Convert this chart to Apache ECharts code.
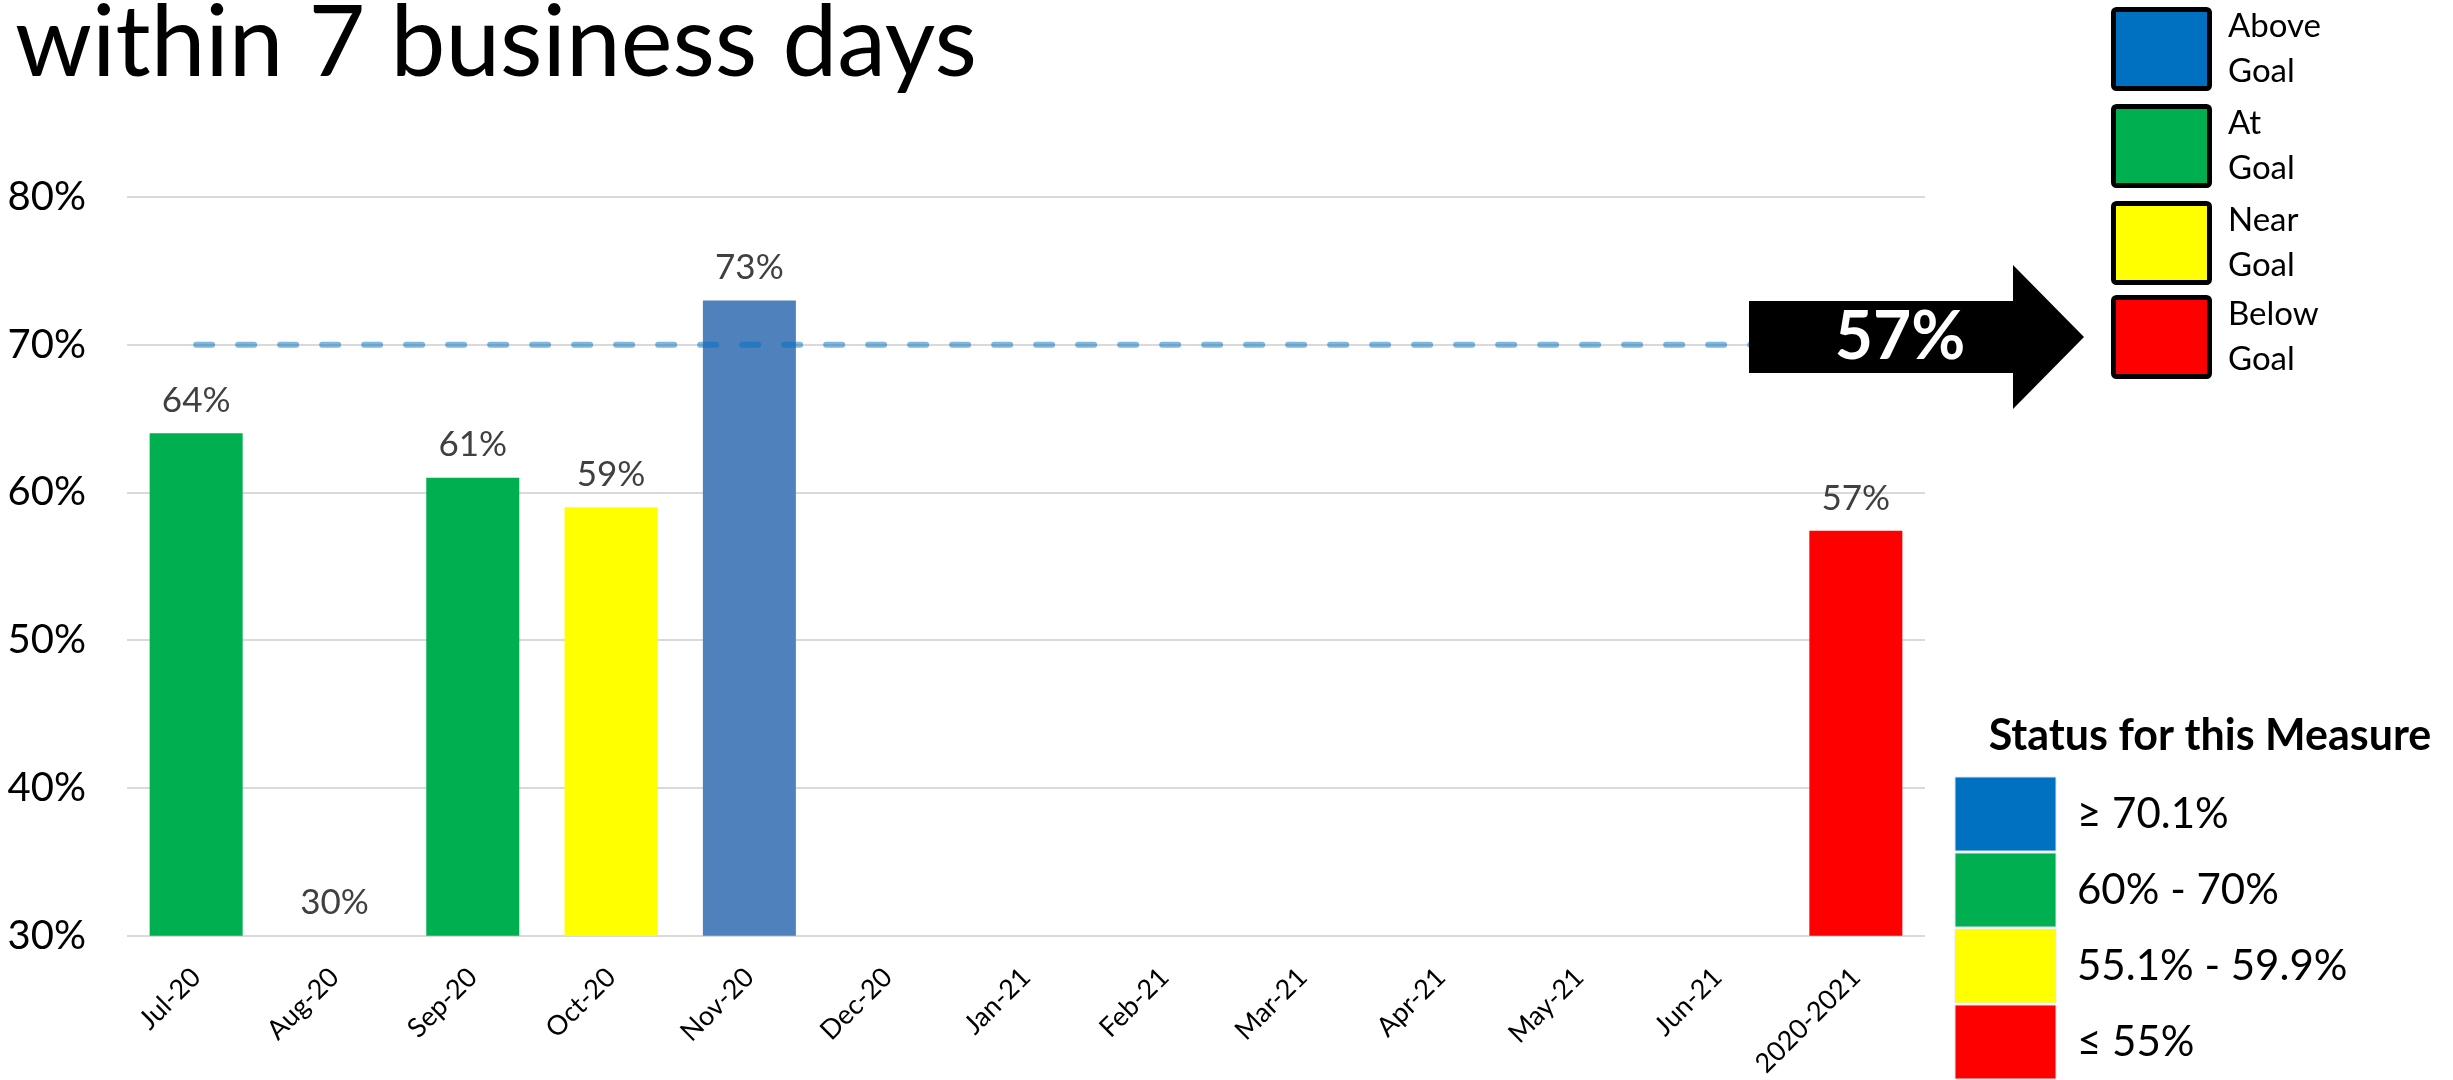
<!DOCTYPE html>
<html>
<head>
<meta charset="utf-8">
<script src="https://cdn.jsdelivr.net/npm/echarts@6/dist/echarts.min.js"></script>
<style>
  html, body { margin: 0; padding: 0; background: #fff; }
  #chart { width: 2453px; height: 1080px; }
</style>
</head>
<body>
<div id="chart"></div>
<script>
// ---- data ----
const titleText = 'within 7 business days';
const categories = ['Jul-20', 'Aug-20', 'Sep-20', 'Oct-20', 'Nov-20', 'Dec-20', 'Jan-21', 'Feb-21', 'Mar-21', 'Apr-21', 'May-21', 'Jun-21', '2020-2021'];
const values = [64, 30, 61, 59, 73, null, null, null, null, null, null, null, 57.4];
const statuses = ['at', 'none', 'at', 'near', 'above', 'none', 'none', 'none', 'none', 'none', 'none', 'none', 'below'];
const goalLine = [70, 70, 70, 70, 70, 70, 70, 70, 70, 70, 70, 70, 70];
const yTicks = [30, 40, 50, 60, 70, 80];
const goalLegendLabels = ['Above\nGoal', 'At\nGoal', 'Near\nGoal', 'Below\nGoal'];
const statusTitle = 'Status for this Measure';
const statusRangeLabels = ['\u2265 70.1%', '60% - 70%', '55.1% - 59.9%', '\u2264 55%'];

// ---- styles ----
const FONT = 'Lato';
const barColorMap = { above: '#4F81BD', at: '#00B050', near: '#FFFF00', below: '#FF0000', none: '#FFFFFF' };
const legendColors = ['#0070C0', '#00B050', '#FFFF00', '#FF0000'];

const chart = echarts.init(document.getElementById('chart'), null, { renderer: 'canvas' });

const barData = values.map((v, i) => ({ value: v, itemStyle: { color: barColorMap[statuses[i]] } }));

const graphics = [];
// title
graphics.push({
  type: 'text', x: 15, y: 44, z: 10,
  style: { text: titleText, font: '98px ' + FONT, fill: '#000', align: 'left', verticalAlign: 'middle' }
});
// arrow
const lastVal = values[values.length - 1];
graphics.push({
  type: 'polygon', z: 20,
  shape: { points: [[1749, 301], [2013, 301], [2013, 265], [2084, 337], [2013, 409], [2013, 373], [1749, 373]] },
  style: { fill: '#000' }
});
graphics.push({
  type: 'text', z: 21, x: 1900, y: 338,
  style: { text: Math.round(lastVal) + '%', font: 'bold 66px ' + FONT, fill: '#fff', align: 'center', verticalAlign: 'middle' }
});
// top-right goal legend
goalLegendLabels.forEach((lab, i) => {
  const top = [7, 104, 201, 295][i];
  graphics.push({
    type: 'rect', z: 10,
    shape: { x: 2113.5, y: top + 2.5, width: 96, height: 79, r: 3 },
    style: { fill: legendColors[i], stroke: '#000', lineWidth: 5 }
  });
  graphics.push({
    type: 'text', z: 10, x: 2228, y: top + 42,
    style: { text: lab, font: '33px ' + FONT, fill: '#000', align: 'left', verticalAlign: 'middle', lineHeight: 45 }
  });
});
// status legend
graphics.push({
  type: 'text', z: 10, x: 2210, y: 736,
  style: { text: statusTitle, font: 'bold 43px ' + FONT, fill: '#000', align: 'center', verticalAlign: 'middle' }
});
statusRangeLabels.forEach((lab, i) => {
  const top = 777 + i * 76;
  graphics.push({
    type: 'rect', z: 10,
    shape: { x: 1955, y: top, width: 101, height: 74 },
    style: { fill: legendColors[i], stroke: '#dfe6ee', lineWidth: 1 }
  });
  graphics.push({
    type: 'text', z: 10, x: 2077, y: top + 37,
    style: { text: lab, font: '42px ' + FONT, fill: '#000', align: 'left', verticalAlign: 'middle' }
  });
});

const option = {
  backgroundColor: '#fff',
  animation: false,
  textStyle: { fontFamily: FONT },
  grid: { left: 127, right: 528, top: 197, bottom: 141, containLabel: false },
  xAxis: {
    type: 'category',
    data: categories,
    axisLine: { show: false },
    axisTick: { show: false },
    axisLabel: { rotate: 45, fontSize: 27, color: '#000', fontFamily: FONT, margin: 37, interval: 0 }
  },
  yAxis: {
    type: 'value',
    min: yTicks[0], max: yTicks[yTicks.length - 1], interval: 10,
    axisLine: { show: false },
    axisTick: { show: false },
    splitLine: { lineStyle: { color: '#D9D9D9', width: 2 } },
    axisLabel: { formatter: '{value}%', fontSize: 40, color: '#000', fontFamily: FONT, margin: 41 }
  },
  series: [
    {
      type: 'bar',
      data: barData,
      barWidth: 93,
      label: {
        show: true, position: 'top', distance: 15,
        fontSize: 35, color: '#404040', fontFamily: FONT,
        formatter: p => (p.value == null ? '' : Math.round(p.value) + '%')
      },
      z: 2
    },
    {
      type: 'line',
      data: goalLine,
      symbol: 'none',
      lineStyle: { color: '#0070C0', opacity: 0.5, width: 6, type: [16, 26], cap: 'round' },
      z: 3,
      silent: true
    }
  ],
  graphic: graphics
};
chart.setOption(option);
</script>
</body>
</html>
